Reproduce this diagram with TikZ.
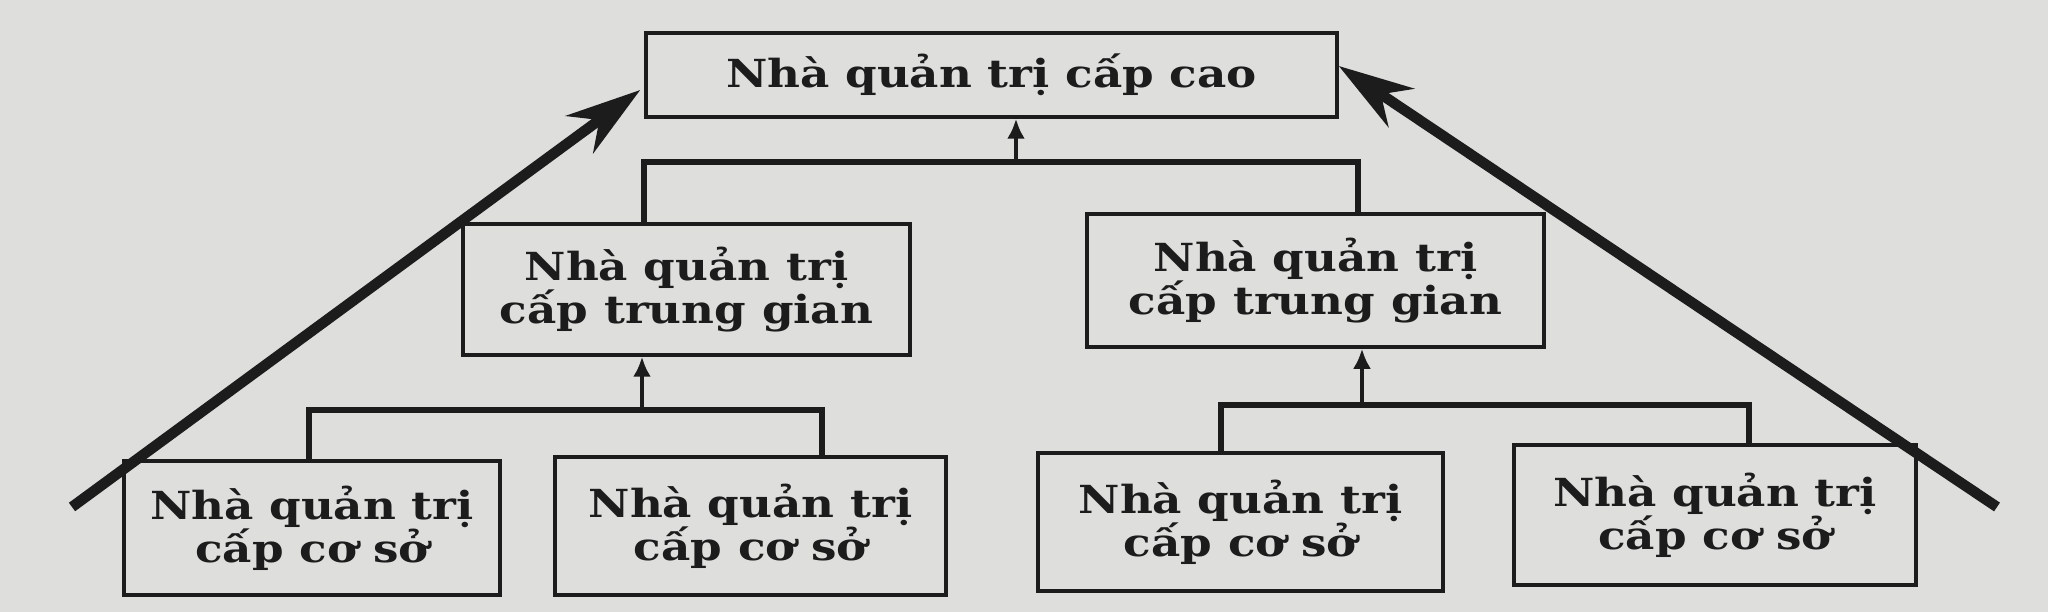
\documentclass[tikz,border=0pt]{standalone}
\usepackage{fontspec}
\setmainfont{DejaVu Serif}[FakeStretch=1.17]
\usetikzlibrary{arrows.meta, calc, positioning}
\definecolor{paper}{RGB}{222,222,220}
\definecolor{ink}{RGB}{28,28,28}

\begin{document}
\begin{tikzpicture}[
  level/.style={draw=ink, line width=1pt, align=center, inner sep=0pt,
    font=\fontsize{11}{12.2}\selectfont\bfseries, text=ink},
  link/.style={draw=ink, line width=1.6pt},
  stem/.style={draw=ink, line width=1.1pt, -{Latex[length=2mm,width=1.8mm]}},
  flow/.style={draw=ink, line width=3pt, -{Stealth[length=7.5mm,width=4.6mm]}}
]
	\useasboundingbox[fill=paper] (0,0) rectangle (20.48,6.12);

	% top level
	\node[level, minimum width=6.91cm, minimum height=0.84cm] (top) at (9.915,5.37) {Nhà quản trị cấp cao};

	% middle level
	\node[level, minimum width=4.47cm, minimum height=1.31cm] (midL) at (6.865,3.225) {Nhà quản trị\\cấp trung gian};
	\node[level, minimum width=4.57cm, minimum height=1.33cm] (midR) at (13.155,3.315) {Nhà quản trị\\cấp trung gian};

	% first-line level
	\node[level, minimum width=3.76cm, minimum height=1.34cm] (low1) at (3.12,0.84) {Nhà quản trị\\cấp cơ sở};
	\node[level, minimum width=3.91cm, minimum height=1.38cm] (low2) at (7.505,0.86) {Nhà quản trị\\cấp cơ sở};
	\node[level, minimum width=4.05cm, minimum height=1.38cm] (low3) at (12.405,0.90) {Nhà quản trị\\cấp cơ sở};
	\node[level, minimum width=4.02cm, minimum height=1.40cm] (low4) at (17.15,0.97) {Nhà quản trị\\cấp cơ sở};

	% junctions
	\coordinate (jTop) at (10.16,4.50);
	\coordinate (jTopL) at (6.44,4.50);
	\coordinate (jTopR) at (13.58,4.50);
	\coordinate (jMidL) at (6.42,2.02);
	\coordinate (jMidLa) at (3.09,2.02);
	\coordinate (jMidLb) at (8.22,2.02);
	\coordinate (jMidR) at (13.62,2.07);
	\coordinate (jMidRa) at (12.21,2.07);
	\coordinate (jMidRb) at (17.49,2.07);

	% top to middle
	\draw[stem] (jTop) -- (jTop |- top.south);
	\draw[link] (jTopL |- midL.north) -- (jTopL) -- (jTopR) -- (jTopR |- midR.north);

	% middle to first-line
	\draw[stem] (jMidL) -- (jMidL |- midL.south);
	\draw[link] (jMidLa |- low1.north) -- (jMidLa) -- (jMidLb) -- (jMidLb |- low2.north);
	\draw[stem] (jMidR) -- (jMidR |- midR.south);
	\draw[link] (jMidRa |- low3.north) -- (jMidRa) -- (jMidRb) -- (jMidRb |- low4.north);

	% big arrows up the sides
	\coordinate (baseL) at (0.72,1.05);
	\coordinate (baseR) at (19.97,1.05);
	\draw[flow] (baseL) -- ($(top.west)+(-0.04,-0.15)$);
	\draw[flow] (baseR) -- ($(top.east)+(0,0.09)$);
\end{tikzpicture}
\end{document}
